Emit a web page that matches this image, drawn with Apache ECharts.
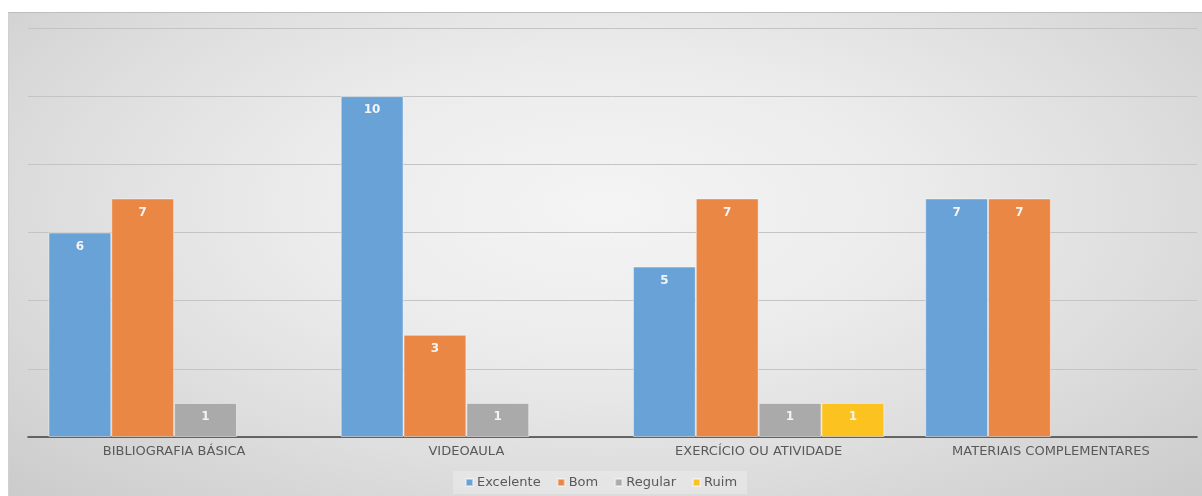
<!DOCTYPE html>
<html>
<head>
<meta charset="utf-8">
<script src="https://cdn.jsdelivr.net/npm/echarts@6/dist/echarts.min.js"></script>
<style>
html,body{margin:0;padding:0;background:#fff;}
#wrap{position:absolute;left:8px;top:12px;width:1194px;height:484px;
 background:radial-gradient(ellipse at 50% 40%, #f4f4f4 0%, #ececec 35%, #dedede 65%, #cbcbcb 100%);
 border-top:1px solid #bdbdbd;border-left:1px solid #d0d0d0;box-sizing:border-box;}
#chart{position:absolute;left:0;top:0;width:1202px;height:496px;}
</style>
</head>
<body>
<div id="wrap"></div>
<div id="chart"></div>
<script>
const categories = ['BIBLIOGRAFIA BÁSICA', 'VIDEOAULA', 'EXERCÍCIO OU ATIVIDADE', 'MATERIAIS COMPLEMENTARES'];
const seriesNames = ['Excelente', 'Bom', 'Regular', 'Ruim'];
const excelente = [6, 10, 5, 7];
const bom = [7, 3, 7, 7];
const regular = [1, 1, 1, null];
const ruim = [null, null, 1, null];
const colors = ['#68a2d7', '#ea8745', '#aaaaaa', '#fcc21f'];

const dataSets = [excelente, bom, regular, ruim];
const chart = echarts.init(document.getElementById('chart'), null, {renderer: 'canvas'});
chart.setOption({
  backgroundColor: 'transparent',
  animation: false,
  textStyle: {fontFamily: 'DejaVu Sans, sans-serif'},
  grid: {left: 28, right: 5, top: 28, bottom: 59},
  legend: {
    bottom: 2, left: 'center',
    data: seriesNames,
    icon: 'rect', itemWidth: 7, itemHeight: 7, itemGap: 16,
    backgroundColor: 'rgba(255,255,255,0.25)',
    padding: [5, 10, 5, 12],
    textStyle: {color: '#595959', fontSize: 13, fontFamily: 'DejaVu Sans', padding: [0, 0, 0, -1]}
  },
  xAxis: {
    type: 'category', data: categories,
    axisLine: {lineStyle: {color: '#404040', width: 1.5}},
    axisTick: {show: false},
    axisLabel: {color: '#595959', fontSize: 13, margin: 8, fontFamily: 'DejaVu Sans'}
  },
  yAxis: {
    type: 'value', min: 0, max: 12, interval: 2,
    axisLabel: {show: false}, axisLine: {show: false}, axisTick: {show: false},
    splitLine: {lineStyle: {color: '#c4c4c4', width: 1}}
  },
  series: dataSets.map((d, i) => ({
    name: seriesNames[i], type: 'bar', data: d,
    barCategoryGap: '14%', barGap: '0%',
    itemStyle: {color: colors[i], borderColor: 'rgba(255,255,255,0.45)', borderWidth: 1},
    label: {show: true, position: 'insideTop', distance: 8, color: '#f4f4f4', fontSize: 12, fontWeight: 'bold', fontFamily: 'DejaVu Sans'}
  }))
});
</script>
</body>
</html>
